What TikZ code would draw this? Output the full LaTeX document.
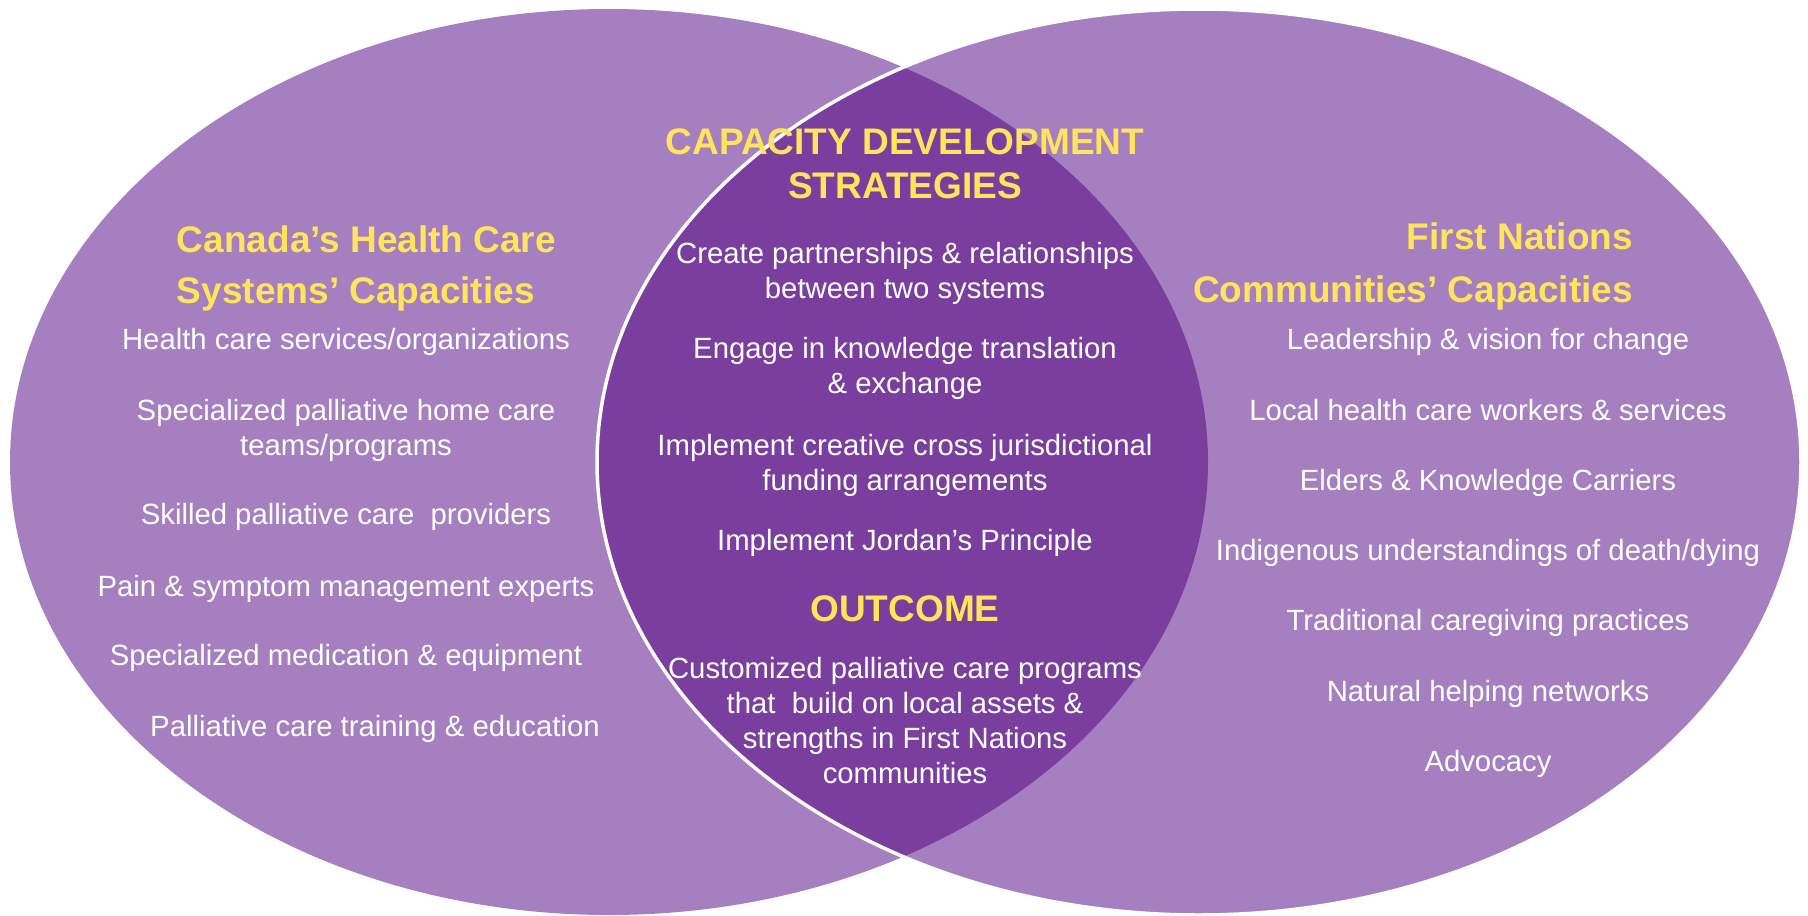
\documentclass[tikz,border=0pt]{standalone}
\usepackage{fontspec}
\setmainfont{Liberation Sans}
\usepackage{xcolor}
\definecolor{vennlight}{RGB}{165,127,191}
\definecolor{venndark}{RGB}{122,63,158}
\definecolor{vennyellow}{RGB}{255,228,92}

\begin{document}
\begin{tikzpicture}[x=1pt,y=1pt,yscale=-1,xscale=1,
    item/.style={color=white,inner sep=0.75pt,align=center,font=\fontsize{29.3}{35}\selectfont},
    head/.style={color=vennyellow,inner sep=0.75pt,font=\fontsize{37}{44}\selectfont\bfseries}]
    \useasboundingbox (0,0) rectangle (1808,916);
    
    %Shape: Ellipse (health care systems)
    \fill [vennlight] (609,462) ellipse [x radius=599, y radius=453];
    %Shape: Ellipse (communities)
    \fill [vennlight] (1199,462) ellipse [x radius=602, y radius=453];
    %Shape: Lens (overlap)
    \begin{scope}
      \clip (609,462) ellipse [x radius=599, y radius=453];
      \fill [venndark] (1199,462) ellipse [x radius=602, y radius=453];
    \end{scope}
    \draw [color=white, line width=3.5] (1199,462) ellipse [x radius=602, y radius=453];
    
    % Text Node
    \draw (176,239) node (hcsA) [head,anchor=west] {Canada’s Health Care};
    % Text Node
    \draw (176,294) node (hcsB) [head,anchor=west] {Systems’ Capacities};
    % Text Node
    \draw (346,342) node (hcs1) [item] {Health care services/organizations};
    % Text Node
    \draw (346,430) node (hcs2) [item] {Specialized palliative home care\\teams/programs};
    % Text Node
    \draw (346,517) node (hcs3) [item] {Skilled palliative care\ \ providers};
    % Text Node
    \draw (346,589) node (hcs4) [item] {Pain \& symptom management experts};
    % Text Node
    \draw (346,658) node (hcs5) [item] {Specialized medication \& equipment};
    % Text Node
    \draw (375,729) node (hcs6) [item] {Palliative care training \& education};
    
    % Text Node
    \draw (905,142) node (cdsA) [head] {CAPACITY DEVELOPMENT};
    % Text Node
    \draw (905,186) node (cdsB) [head] {STRATEGIES};
    % Text Node
    \draw (905,273) node (cds1) [item] {Create partnerships \& relationships\\between two systems};
    % Text Node
    \draw (905,368.5) node (cds2) [item] {Engage in knowledge translation\\\& exchange};
    % Text Node
    \draw (905,465) node (cds3) [item] {Implement creative cross jurisdictional\\funding arrangements};
    % Text Node
    \draw (905,542.5) node (cds4) [item] {Implement Jordan’s Principle};
    % Text Node
    \draw (905,609) node (outA) [head] {OUTCOME};
    % Text Node
    \draw (905,721) node (out1) [item] {Customized palliative care programs\\that\ \ build on local assets \&\\strengths in First Nations\\communities};
    
    % Text Node
    \draw (1634,236) node (fncA) [head,anchor=east] {First Nations};
    % Text Node
    \draw (1634,293) node (fncB) [head,anchor=east] {Communities’ Capacities};
    % Text Node
    \draw (1488,342) node (fnc1) [item] {Leadership \& vision for change};
    % Text Node
    \draw (1488,410) node (fnc2) [item] {Local health care workers \& services};
    % Text Node
    \draw (1488,483) node (fnc3) [item] {Elders \& Knowledge Carriers};
    % Text Node
    \draw (1488,553) node (fnc4) [item] {Indigenous understandings of death/dying};
    % Text Node
    \draw (1488,623) node (fnc5) [item] {Traditional caregiving practices};
    % Text Node
    \draw (1488,694) node (fnc6) [item] {Natural helping networks};
    % Text Node
    \draw (1488,764) node (fnc7) [item] {Advocacy};
    
\end{tikzpicture}
\end{document}
